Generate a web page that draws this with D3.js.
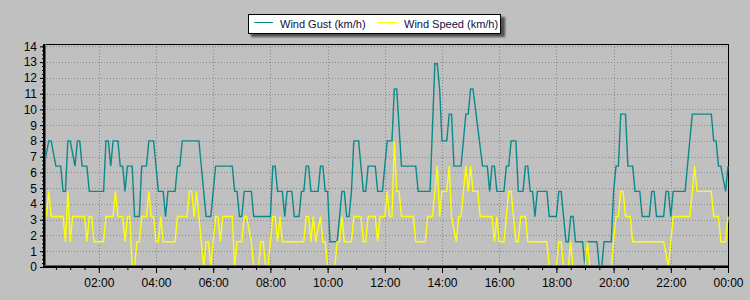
<!DOCTYPE html>
<html><head><meta charset="utf-8">
<script src="https://cdn.jsdelivr.net/npm/d3@7"></script>
<style>body{margin:0;background:#c0c0c0;overflow:hidden}svg{display:block}</style>
</head><body><svg id="c" width="750" height="300"></svg>
<script>
// minutes since midnight
const xTickMinutes = [120,240,360,480,600,720,840,960,1080,1200,1320,1440];
const xTickLabels = ["02:00","04:00","06:00","08:00","10:00","12:00","14:00","16:00","18:00","20:00","22:00","00:00"];
const yTickValues = [0,1,2,3,4,5,6,7,8,9,10,11,12,13,14];
const yTickLabels = ["0","1","2","3","4","5","6","7","8","9","10","11","12","13","14"];
const seriesNames = ["Wind Gust (km/h)","Wind Speed (km/h)"];

const gustTime = [5,15,20,30,40,45,50,55,60,70,75,80,85,95,100,130,135,140,145,150,160,165,170,175,180,190,195,205,210,220,225,235,245,255,260,265,280,285,290,295,330,345,355,365,400,405,410,415,420,425,440,445,480,485,490,495,505,510,515,525,530,540,545,550,555,560,565,580,585,590,595,600,605,620,630,635,640,645,650,655,665,675,680,685,700,705,715,720,725,735,740,745,755,785,790,815,825,830,835,840,850,855,860,865,880,890,895,900,905,925,935,940,945,950,955,970,975,980,985,995,1000,1010,1015,1020,1025,1030,1035,1040,1060,1065,1080,1085,1090,1100,1105,1110,1115,1120,1135,1140,1145,1165,1170,1175,1180,1195,1200,1205,1210,1215,1225,1230,1240,1245,1255,1260,1275,1280,1285,1290,1305,1310,1315,1320,1325,1350,1365,1405,1410,1415,1420,1425,1435,1440];
const gustKmh = [6.4,8.0,8.0,6.4,6.4,4.8,4.8,8.0,8.0,6.4,8.0,8.0,6.4,6.4,4.8,4.8,8.0,8.0,6.4,8.0,8.0,6.4,6.4,4.8,6.4,6.4,3.2,3.2,6.4,6.4,8.0,8.0,4.8,4.8,3.2,4.8,4.8,6.4,6.4,8.0,8.0,3.2,3.2,6.4,6.4,4.8,4.8,3.2,3.2,4.8,4.8,3.2,3.2,6.4,6.4,4.8,4.8,3.2,4.8,4.8,3.2,3.2,4.8,4.8,6.4,6.4,4.8,4.8,6.4,6.4,4.8,4.8,1.6,1.6,4.8,4.8,3.2,3.2,4.8,8.0,8.0,4.8,4.8,6.4,6.4,4.8,4.8,6.4,8.0,8.0,11.3,11.3,6.4,6.4,4.8,4.8,12.9,12.9,11.3,8.0,8.0,9.7,9.7,6.4,6.4,9.7,9.7,11.3,11.3,6.4,6.4,4.8,6.4,6.4,4.8,4.8,6.4,6.4,8.0,8.0,4.8,4.8,6.4,6.4,4.8,4.8,3.2,4.8,4.8,3.2,3.2,4.8,4.8,1.6,1.6,3.2,3.2,1.6,1.6,0,1.6,1.6,0,0,1.6,1.6,4.8,6.4,6.4,9.7,9.7,6.4,6.4,4.8,4.8,3.2,3.2,4.8,4.8,3.2,3.2,4.8,4.8,3.2,4.8,4.8,9.7,9.7,8.0,8.0,6.4,6.4,4.8,6.4];

const speedTime = [5,10,15,20,45,50,55,60,65,90,95,100,105,110,130,135,150,155,160,170,175,180,185,190,195,200,205,210,220,225,230,235,240,245,250,255,280,285,305,310,315,320,325,340,345,350,355,365,370,375,380,400,405,410,420,425,430,440,445,455,460,465,470,475,485,490,495,500,505,550,555,560,565,570,575,585,590,595,600,615,620,625,630,635,650,655,670,675,680,685,700,705,710,720,725,730,735,740,745,750,755,780,785,805,810,820,830,835,840,850,855,860,870,875,880,890,895,900,905,915,920,945,950,955,960,970,980,985,995,1000,1005,1015,1020,1060,1065,1080,1085,1090,1095,1105,1110,1115,1140,1145,1150,1195,1200,1205,1210,1215,1220,1225,1235,1240,1305,1315,1320,1325,1360,1370,1375,1405,1410,1420,1425,1435,1440];
const speedKmh = [4.8,3.2,4.8,3.2,3.2,1.6,4.8,1.6,3.2,3.2,1.6,3.2,3.2,1.6,1.6,3.2,3.2,4.8,3.2,3.2,1.6,3.2,3.2,0,0,1.6,1.6,3.2,3.2,4.8,3.2,3.2,1.6,1.6,3.2,1.6,1.6,3.2,3.2,4.8,4.8,3.2,4.8,0,1.6,1.6,0,3.2,3.2,1.6,3.2,3.2,0,1.6,1.6,3.2,3.2,1.6,0,0,1.6,1.6,0,0,3.2,3.2,1.6,3.2,1.6,1.6,3.2,3.2,1.6,3.2,1.6,3.2,1.6,1.6,0,0,1.6,1.6,3.2,1.6,1.6,3.2,3.2,1.6,1.6,3.2,3.2,1.6,3.2,3.2,4.8,3.2,3.2,8.0,4.8,4.8,3.2,3.2,1.6,1.6,3.2,3.2,6.4,3.2,4.8,4.8,6.4,3.2,1.6,3.2,3.2,6.4,4.8,6.4,4.8,4.8,3.2,3.2,1.6,3.2,1.6,1.6,4.8,4.8,1.6,1.6,3.2,3.2,1.6,1.6,0,0,1.6,1.6,0,0,1.6,0,0,1.6,0,0,1.6,3.2,3.2,4.8,4.8,3.2,3.2,1.6,1.6,0,1.6,3.2,3.2,6.4,4.8,4.8,3.2,3.2,1.6,1.6,3.2];

const svg = d3.select("#c");
const W = 750, H = 300;
const L = 44, R = 728, T = 44, B = 267;
const x = d3.scaleLinear().domain([5,1440]).range([L,R]);
const y = d3.scaleLinear().domain([0,14.15]).range([B,T]);
const font = "'Liberation Sans', Arial, sans-serif";

svg.append("rect").attr("width",W).attr("height",H).attr("fill","#c0c0c0");

// grid
const g = svg.append("g");
g.selectAll(".hg").data(yTickValues.filter(v=>v>0)).enter().append("line")
  .attr("x1",L).attr("x2",R).attr("y1",d=>Math.round(y(d))+0.5).attr("y2",d=>Math.round(y(d))+0.5)
  .attr("stroke","#8a8a8a").attr("stroke-dasharray","1,2");
g.selectAll(".vg").data(xTickMinutes.slice(0,-1)).enter().append("line")
  .attr("y1",T).attr("y2",B).attr("x1",d=>Math.round(x(d))+0.5).attr("x2",d=>Math.round(x(d))+0.5)
  .attr("stroke","#8a8a8a").attr("stroke-dasharray","1,2");

// frame top/right
svg.append("line").attr("x1",L).attr("x2",R+0.5).attr("y1",T+0.5).attr("y2",T+0.5).attr("stroke","#000");
svg.append("line").attr("x1",R+0.5).attr("x2",R+0.5).attr("y1",T).attr("y2",B).attr("stroke","#000");

// series
const line = d3.line().x(d=>x(d[0])).y(d=>y(d[1]));
svg.append("path").datum(d3.zip(gustTime,gustKmh)).attr("d",line)
  .attr("fill","none").attr("stroke","#0a8a8a").attr("stroke-width",1.4);
svg.append("path").datum(d3.zip(speedTime,speedKmh)).attr("d",line)
  .attr("fill","none").attr("stroke","#ffff00").attr("stroke-width",1.4);

// left axis
const ya = svg.append("g").attr("transform",`translate(${L},0)`)
  .call(d3.axisLeft(y).tickValues(yTickValues).tickFormat((d,i)=>yTickLabels[i]).tickSize(4).tickPadding(3));
const yminor = svg.append("g").attr("transform",`translate(${L},0)`)
  .call(d3.axisLeft(y).tickValues(d3.range(0,14.01,0.25)).tickFormat("").tickSize(2));
// bottom axis
const xa = svg.append("g").attr("transform",`translate(0,${B})`)
  .call(d3.axisBottom(x).tickValues(xTickMinutes).tickFormat((d,i)=>xTickLabels[i]).tickSize(6).tickPadding(5));
const xminor = svg.append("g").attr("transform",`translate(0,${B})`)
  .call(d3.axisBottom(x).tickValues(d3.range(30,1440,30)).tickFormat("").tickSize(3));
[ya,yminor,xa,xminor].forEach(a=>{
  a.select(".domain").remove();
  a.selectAll("line").attr("stroke","#000");
  a.selectAll("text").attr("font-family",font).attr("font-size",12).attr("fill","#000");
});
// axis lines (thick, 3D-ish)
svg.append("line").attr("x1",L).attr("x2",L).attr("y1",T).attr("y2",B+1).attr("stroke","#000").attr("stroke-width",2);
svg.append("line").attr("x1",L+1.5).attr("x2",L+1.5).attr("y1",T).attr("y2",B).attr("stroke","#606060").attr("stroke-width",1);
svg.append("line").attr("x1",L-1).attr("x2",R+1).attr("y1",B).attr("y2",B).attr("stroke","#000").attr("stroke-width",2);
svg.append("line").attr("x1",L).attr("x2",R).attr("y1",B-1.5).attr("y2",B-1.5).attr("stroke","#606060").attr("stroke-width",1);

// legend
const lg = svg.append("g");
const defs = svg.append("defs");
defs.append("filter").attr("id","blur").append("feGaussianBlur").attr("stdDeviation",1.2);
lg.append("rect").attr("x",251).attr("y",17).attr("width",254).attr("height",20).attr("fill","#505050").attr("filter","url(#blur)");
lg.append("rect").attr("x",248.5).attr("y",14.5).attr("width",252).attr("height",19).attr("fill","#fff").attr("stroke","#000");
const legendColors = ["#0a8a8a","#ffff00"];
const legendX = [254,378];
seriesNames.forEach((n,i)=>{
  lg.append("line").attr("x1",legendX[i]).attr("x2",legendX[i]+19).attr("y1",22.5).attr("y2",22.5)
    .attr("stroke",legendColors[i]).attr("stroke-width",1);
  lg.append("text").attr("x",legendX[i]+26).attr("y",27.5).text(n)
    .attr("font-family",font).attr("font-size",11).attr("fill","#101040");
});
</script></body></html>
